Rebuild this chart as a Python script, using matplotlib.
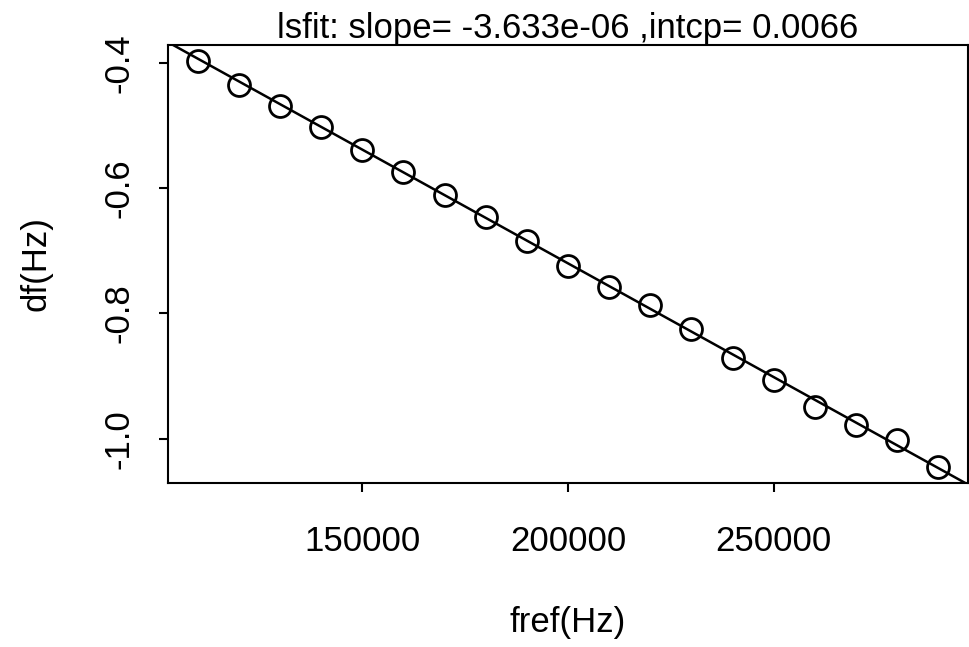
import numpy as np
import matplotlib
matplotlib.use("Agg")
import matplotlib.pyplot as plt

# reference frequencies and measured offsets
fref = [110000, 120000, 130000, 140000, 150000, 160000, 170000, 180000, 190000, 200000,
        210000, 220000, 230000, 240000, 250000, 260000, 270000, 280000, 290000]
df = [-0.3968, -0.4358, -0.4688, -0.5024, -0.5387, -0.5744, -0.6112, -0.6464, -0.6838, -0.7248,
      -0.7584, -0.7867, -0.8251, -0.8704, -0.9067, -0.9488, -0.9787, -1.0027, -1.0448]

# least squares fit result
slope = -3.633e-06
intcp = 0.0066

xticks = [150000, 200000, 250000]
yticks = [-1.0, -0.8, -0.6, -0.4]
ytick_labels = ["-1.0", "-0.8", "-0.6", "-0.4"]

plt.rcParams["font.family"] = ["Liberation Sans", "DejaVu Sans"]
fs = 25

fig = plt.figure(figsize=(9.69, 6.47), dpi=100)
ax = fig.add_axes([168 / 969, 1 - 483 / 647, 800 / 969, (483 - 44.7) / 647])

ax.plot(fref, df, linestyle="none", marker="o", markersize=15.8,
        markerfacecolor="none", markeredgecolor="black", markeredgewidth=2.0)
ax.axline((0, intcp), slope=slope, color="black", linewidth=1.8)

# R style 4% padding on both axes
xr = max(fref) - min(fref)
yr = max(df) - min(df)
ax.set_xlim(min(fref) - 0.04 * xr, max(fref) + 0.04 * xr)
ax.set_ylim(min(df) - 0.04 * yr, max(df) + 0.04 * yr)

ax.set_xticks(xticks)
ax.set_xticklabels([str(t) for t in xticks])
ax.set_yticks(yticks)
ax.set_yticklabels(ytick_labels, rotation=90, va="center")
ax.tick_params(axis="both", direction="out", length=6.5, width=1.5, labelsize=fs)
ax.tick_params(axis="x", pad=24)
ax.tick_params(axis="y", pad=17)

for sp in ax.spines.values():
    sp.set_linewidth(1.5)

ax.set_xlabel("fref(Hz)", fontsize=fs, labelpad=34)
ax.set_ylabel("df(Hz)", fontsize=fs, labelpad=36)
ax.set_title("lsfit: slope= " + "%.3e" % slope + " ,intcp= " + str(intcp), fontsize=fs, pad=-2)

fig.savefig("out.png", dpi=100)
